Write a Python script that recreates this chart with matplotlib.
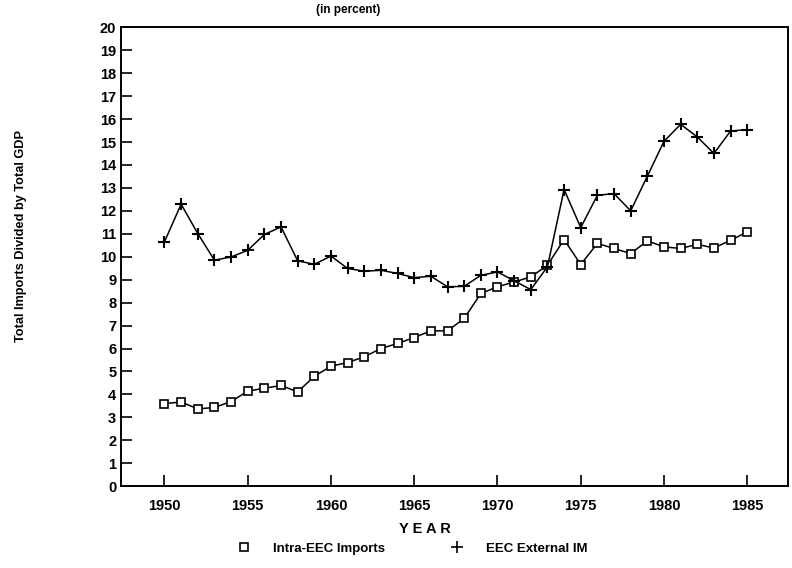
import numpy as np
import matplotlib
matplotlib.use('Agg')
import matplotlib.pyplot as plt

plt.rcParams['font.family'] = ['Liberation Sans', 'DejaVu Sans']
plt.rcParams['font.weight'] = 'bold'

years = list(range(1950, 1986))

# intra-EEC imports / GDP (percent)
intra_eec = [3.60, 3.67, 3.37, 3.43, 3.69, 4.14, 4.27, 4.39, 4.11, 4.79,
             5.23, 5.39, 5.64, 6.00, 6.22, 6.48, 6.77, 6.77, 7.31, 8.40,
             8.69, 8.90, 9.12, 9.63, 10.75, 9.66, 10.58, 10.36, 10.14, 10.69,
             10.43, 10.36, 10.54, 10.38, 10.72, 11.08]

# EEC external imports / GDP (percent)
external_im = [10.65, 12.29, 11.01, 9.85, 9.99, 10.28, 10.97, 11.30, 9.82, 9.67,
               10.03, 9.49, 9.37, 9.41, 9.27, 9.09, 9.15, 8.69, 8.71, 9.19,
               9.34, 8.95, 8.57, 9.56, 12.93, 11.27, 12.68, 12.75, 12.00, 13.51,
               15.03, 15.77, 15.22, 14.50, 15.48, 15.54]

xticks = [1950, 1955, 1960, 1965, 1970, 1975, 1980, 1985]
yticks = list(range(0, 21))

fig = plt.figure(figsize=(7.92, 5.68), dpi=100)
ax = fig.add_axes([0.153, 0.144, 0.842, 0.808])

ax.plot(years, intra_eec, color='black', lw=1.1, marker='s', ms=6,
        mfc='white', mec='black', mew=1.2, label='Intra-EEC Imports')
ax.plot(years, external_im, color='black', lw=1.1, marker='+', ms=9,
        mew=1.5, label='EEC External IM')

ax.set_xlim(1947.4, 1987.45)
ax.set_ylim(0, 20)
ax.set_xticks(xticks)
ax.set_yticks(yticks)
ax.tick_params(direction='in', length=8, width=1.2, labelsize=10.5,
               top=False, right=False)
ax.tick_params(axis='x', pad=9)
for lab in ax.get_xticklabels() + ax.get_yticklabels():
    lab.set_fontweight('bold')
for s in ax.spines.values():
    s.set_linewidth(1.4)

fig.text(0.44, 0.982, '(in percent)', ha='center', va='center',
         fontsize=8.5, fontweight='bold')
fig.text(0.027, 0.585, 'Total Imports Divided by Total GDP', rotation=90,
         ha='center', va='center', fontsize=9.2, fontweight='bold')
fig.text(0.537, 0.068, 'Y E A R', ha='center', va='center',
         fontsize=10.5, fontweight='bold')

h1 = plt.Line2D([], [], ls='none', marker='s', ms=6, mfc='white',
                mec='black', mew=1.2)
h2 = plt.Line2D([], [], ls='none', marker='+', ms=8, mec='black', mew=1.2)
fig.legend([h1, h2], ['Intra-EEC Imports', 'EEC External IM'],
           loc='center', bbox_to_anchor=(0.52, 0.034), ncol=2,
           frameon=False, handlelength=1.2, handletextpad=1.6,
           columnspacing=4.8, prop={'size': 9.5, 'weight': 'bold'})

fig.savefig('out.png', dpi=100)
